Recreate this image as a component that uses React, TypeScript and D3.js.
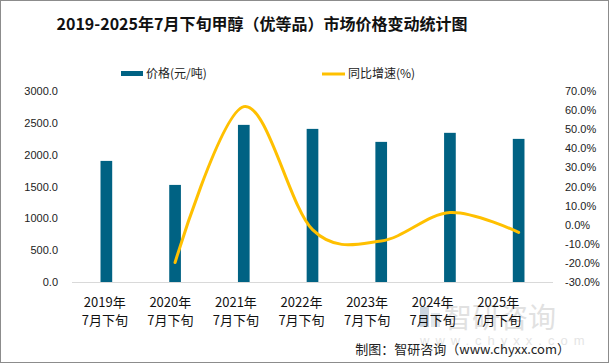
import React, { useEffect, useRef } from 'react';
import * as d3 from 'd3';

const years = ['2019年', '2020年', '2021年', '2022年', '2023年', '2024年', '2025年'];
const period = '7月下旬';
const prices = [1902, 1525, 2468, 2405, 2201, 2343, 2248];
const growth: (number | null)[] = [null, -19.8, 61.8, -2.6, -8.5, 6.4, -4.0];
const leftTicks = [0, 500, 1000, 1500, 2000, 2500, 3000];
const rightTicks = [-30, -20, -10, 0, 10, 20, 30, 40, 50, 60, 70];

const W = 609;
const H = 363;
const BAR = '#006283';
const LINE = '#FFC000';
const FONT = '"Liberation Sans", Arial, "Noto Sans CJK SC", sans-serif';
const CJK = '"Noto Sans CJK SC", "Liberation Sans", sans-serif';

const App: React.FC = () => {
  const svgRef = useRef<SVGSVGElement>(null);

  useEffect(() => {
    document.body.style.margin = '0';
    if (!svgRef.current) return;
    const svg = d3.select(svgRef.current);
    svg.selectAll('*').remove();

    const plot = { left: 72, right: 553, top: 91, bottom: 282 };

    const x = d3.scaleBand<string>().domain(years).range([plot.left, plot.right]);
    // category labels sit slightly compressed relative to the bars
    const xLabel = d3.scaleBand<string>().domain(years).range([plot.left, 531]);
    const y = d3.scaleLinear().domain([0, 3000]).range([plot.bottom, plot.top]);
    const y2 = d3.scaleLinear().domain([-30, 70]).range([plot.bottom, plot.top]);

    svg.append('rect')
      .attr('x', 0.5).attr('y', 0.5)
      .attr('width', W - 1).attr('height', H - 1)
      .attr('fill', '#fff').attr('stroke', '#8c8c8c');

    // watermark
    const wm = svg.append('g').attr('opacity', 0.55);
    wm.append('rect').attr('x', 420).attr('y', 307).attr('width', 9).attr('height', 20).attr('fill', '#9fb4c8');
    wm.append('rect').attr('x', 431).attr('y', 313).attr('width', 9).attr('height', 14).attr('fill', '#c8d4de');
    wm.append('text')
      .attr('x', 444).attr('y', 328)
      .style('font-family', CJK).style('font-size', '28px')
      .attr('fill', '#c9c9c9')
      .text('智研咨询');
    wm.append('text')
      .attr('x', 420).attr('y', 345)
      .style('font-family', FONT).style('font-size', '13px')
      .style('letter-spacing', '6px')
      .attr('fill', '#cfcfcf')
      .text('www.chyxx.com');

    // title
    svg.append('text')
      .attr('x', 262).attr('y', 30)
      .attr('text-anchor', 'middle')
      .style('font-family', CJK).style('font-size', '16px').style('font-weight', 'bold')
      .attr('fill', '#111')
      .text('2019-2025年7月下旬甲醇（优等品）市场价格变动统计图');

    // legend
    const lg = svg.append('g').style('font-family', CJK).style('font-size', '12px');
    lg.append('rect').attr('x', 121).attr('y', 71).attr('width', 22).attr('height', 5).attr('fill', BAR);
    lg.append('text').attr('x', 146).attr('y', 78).attr('fill', '#222').text('价格(元/吨)');
    lg.append('line').attr('x1', 322).attr('x2', 345).attr('y1', 74).attr('y2', 74)
      .attr('stroke', LINE).attr('stroke-width', 3);
    lg.append('text').attr('x', 348).attr('y', 78).attr('fill', '#222').text('同比增速(%)');

    // left axis labels
    svg.append('g').selectAll('text').data(leftTicks).join('text')
      .attr('x', 58).attr('y', d => y(d) + 4)
      .attr('text-anchor', 'end')
      .style('font-family', FONT).style('font-size', '11px')
      .attr('fill', '#222')
      .text(d => d.toFixed(1));

    // right axis labels
    svg.append('g').selectAll('text').data(rightTicks).join('text')
      .attr('x', 565).attr('y', d => y2(d) + 4)
      .style('font-family', FONT).style('font-size', '11px')
      .attr('fill', '#222')
      .text(d => d.toFixed(1) + '%');

    // bars
    const bw = x.bandwidth() * 0.17;
    svg.append('g').selectAll('rect').data(prices).join('rect')
      .attr('x', (d, i) => x(years[i])! + x.bandwidth() / 2 - bw / 2)
      .attr('y', d => y(d))
      .attr('width', bw)
      .attr('height', d => y(0) - y(d))
      .attr('fill', BAR);

    // baseline
    svg.append('line')
      .attr('x1', plot.left).attr('x2', plot.right)
      .attr('y1', plot.bottom + 0.5).attr('y2', plot.bottom + 0.5)
      .attr('stroke', '#d9d9d9');

    // growth line
    const pts = growth
      .map((g, i) => ({ g, i }))
      .filter(p => p.g !== null) as { g: number; i: number }[];
    const line = d3.line<{ g: number; i: number }>()
      .x(p => x(years[p.i])! + x.bandwidth() / 2)
      .y(p => y2(p.g))
      .curve(d3.curveCardinal.tension(0));
    svg.append('path')
      .attr('d', line(pts)!)
      .attr('fill', 'none')
      .attr('stroke', LINE)
      .attr('stroke-width', 3)
      .attr('stroke-linecap', 'round');

    // x labels
    const xl = svg.append('g').style('font-family', CJK).style('font-size', '13px').attr('fill', '#111');
    years.forEach(yr => {
      const cx = xLabel(yr)! + xLabel.bandwidth() / 2;
      xl.append('text').attr('x', cx).attr('y', 307).attr('text-anchor', 'middle').text(yr);
      xl.append('text').attr('x', cx).attr('y', 325).attr('text-anchor', 'middle').text(period);
    });

    // source
    svg.append('text')
      .attr('x', 570).attr('y', 354)
      .attr('text-anchor', 'end')
      .style('font-family', CJK).style('font-size', '13px')
      .attr('fill', '#222')
      .text('制图：智研咨询（www.chyxx.com）');
  }, []);

  return (
    <svg
      ref={svgRef}
      width={W}
      height={H}
      style={{ display: 'block', position: 'absolute', left: 0, top: 0 }}
    />
  );
};

export default App;
